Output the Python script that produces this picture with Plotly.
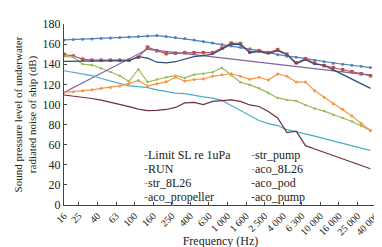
import plotly.graph_objects as go

# 1/3-octave band centre frequencies (Hz)
freqs = [16, 20, 25, 31.5, 40, 50, 63, 80, 100, 125, 160, 200, 250, 315, 400, 500, 630, 800,
         1000, 1250, 1600, 2000, 2500, 3150, 4000, 5000, 6300, 8000, 10000, 12500, 16000,
         20000, 25000, 31500]
tick_labels = ["16", "25", "40", "63", "100", "160", "250", "400", "630", "1 000", "1 600",
               "2 500", "4 000", "6 300", "10 000", "16 000", "25 000", "40 000"]

limit_sl = [164.2, 164.5, 164.8, 165.2, 165.6, 166.0, 166.5, 167.0, 167.5, 168.0, 168.5, 167.5,
            166.5, 165.5, 164.0, 162.5, 161.0, 159.5, 158.0, 157.0, 155.5, 153.5, 151.5, 149.5,
            148.0, 147.0, 145.5, 144.0, 142.5, 141.0, 140.0, 139.0, 138.0, 136.7]
run = [149.8, 148.2, 145.0, 144.0, 144.0, 144.0, 144.0, 144.0, 147.0, 157.0, 153.5, 150.5,
       151.0, 151.5, 151.5, 151.5, 151.5, 156.0, 161.0, 160.5, 152.0, 153.5, 151.5, 154.5,
       150.0, 141.5, 145.5, 141.0, 138.5, 136.5, 134.5, 132.5, 130.5, 128.6]
str_8l26 = [147.8, 147.2, 140.1, 139.2, 136.0, 132.2, 128.6, 122.8, 135.0, 122.2, 124.8, 127.0,
            128.6, 126.4, 129.6, 130.6, 132.0, 136.5, 129.0, 122.0, 119.5, 116.0, 111.5, 106.5,
            104.5, 103.5, 99.5, 96.0, 93.4, 89.6, 86.5, 83.0, 78.5, 74.2]
aco_propeller = [112.0, 116.8, 121.5, 126.3, 131.0, 135.8, 140.6, 145.3, 150.0, 154.8, 153.7,
                 152.6, 151.6, 150.5, 149.4, 148.4, 147.3, 146.2, 145.2, 144.1, 143.0, 142.0,
                 140.9, 139.8, 138.8, 137.7, 136.6, 135.5, 134.5, 133.4, 132.3, 131.3, 130.2, 129.1]
str_pump = [133.5, 131.9, 130.3, 128.6, 125.8, 123.2, 121.0, 118.4, 117.7, 116.8, 114.5, 112.6,
            111.3, 110.7, 108.8, 107.5, 106.2, 104.0, 99.0, 94.0, 89.0, 84.0, 81.0, 79.0, 75.0,
            73.0, 70.5, 68.5, 66.0, 63.5, 61.5, 59.0, 56.5, 54.4]
aco_8l26 = [112.0, 112.6, 113.5, 114.5, 115.9, 116.8, 118.4, 120.7, 123.9, 118.4, 120.7, 122.5,
            127.0, 123.2, 124.8, 125.4, 128.0, 129.6, 130.5, 128.0, 125.0, 127.0, 124.2, 130.3,
            128.0, 122.2, 122.2, 113.6, 107.2, 100.8, 95.3, 88.6, 81.0, 74.2]
aco_pod = [142.9, 142.9, 142.9, 142.9, 142.9, 142.9, 142.9, 143.5, 147.5, 146.0, 142.0, 141.4,
           142.5, 145.0, 147.5, 148.5, 150.0, 155.0, 160.0, 159.5, 151.5, 152.5, 150.5, 153.5,
           149.5, 140.5, 144.5, 140.0, 139.0, 134.4, 129.8, 125.2, 120.6, 116.0]
aco_pump = [109.4, 108.4, 107.2, 105.9, 104.3, 102.4, 100.1, 97.9, 95.4, 93.8, 94.1, 95.0, 97.0,
            101.5, 102.0, 99.8, 103.0, 104.0, 104.5, 103.0, 99.5, 98.0, 93.0, 86.5, 72.0, 73.5,
            59.0, 55.7, 52.4, 49.1, 45.9, 42.6, 39.3, 36.0]

series_names = ["Limit SL re 1uPa", "RUN", "str_8L26", "aco_propeller",
                "str_pump", "aco_8L26", "aco_pod", "aco_pump"]
series_values = [limit_sl, run, str_8l26, aco_propeller, str_pump, aco_8l26, aco_pod, aco_pump]
colors = ["#4F81BD", "#C0504D", "#9BBB59", "#8064A2", "#4BACC6", "#F79646", "#2C4D75", "#6E2F3F"]
markers = [("circle", 3), ("square", 3.5), ("circle", 2.5), None, None, ("circle", 3), None, None]

FONT = "Liberation Serif, Times New Roman, serif"
TXT = "#222222"

x_idx = list(range(len(freqs)))

fig = go.Figure()
for name, vals, col, mk in zip(series_names, series_values, colors, markers):
    if mk:
        fig.add_trace(go.Scatter(x=x_idx, y=vals, name=name, mode="lines+markers",
                                 line=dict(color=col, width=1.2),
                                 marker=dict(symbol=mk[0], size=mk[1], color=col),
                                 showlegend=False))
    else:
        fig.add_trace(go.Scatter(x=x_idx, y=vals, name=name, mode="lines",
                                 line=dict(color=col, width=1.2), showlegend=False))

# legend drawn as two columns of text entries
L, R, T, B = 50, 9, 9, 50
W, H = 382 - L - R, 247 - T - B
col_x = [132, 242]
row_y = [145.3, 159.6, 173.9, 188.2]
for k, (name, col) in enumerate(zip(series_names, colors)):
    cx = col_x[k // 4]
    cy = row_y[k % 4]
    fig.add_annotation(xref="paper", yref="paper",
                       x=(cx - L) / W, y=1 - (cy - T) / H,
                       xanchor="left", yanchor="middle", showarrow=False, borderpad=0,
                       text=f"<span style='color:{col}'>-</span>{name}",
                       font=dict(family=FONT, size=12, color=TXT))

tickvals = [0] + [2 * k - 0.4 for k in range(1, len(tick_labels))]

fig.update_layout(
    width=382, height=247,
    margin=dict(l=L, r=R, t=T, b=B),
    paper_bgcolor="white", plot_bgcolor="white",
    font=dict(family=FONT, size=12, color=TXT),
    xaxis=dict(range=[0, 33.7], tickvals=tickvals, ticktext=tick_labels, tickangle=-45,
               ticks="inside", ticklen=3, tickcolor="#444", showline=True, linecolor="#444",
               linewidth=1.2, showgrid=False, zeroline=False,
               tickfont=dict(family=FONT, size=10, color=TXT),
               title=dict(text="Frequency (Hz)", font=dict(family=FONT, size=12, color=TXT),
                          standoff=0)),
    yaxis=dict(range=[0, 180], dtick=20, ticks="inside", ticklen=3, tickcolor="#444",
               showline=True, linecolor="#444", linewidth=1.2, showgrid=False, zeroline=False,
               tickfont=dict(family=FONT, size=12, color=TXT),
               title=dict(text="Sound pressure level of underwater<br>radiated noise of ship (dB)",
                          font=dict(family=FONT, size=11, color=TXT), standoff=3)),
)

fig.write_html("out.html")
